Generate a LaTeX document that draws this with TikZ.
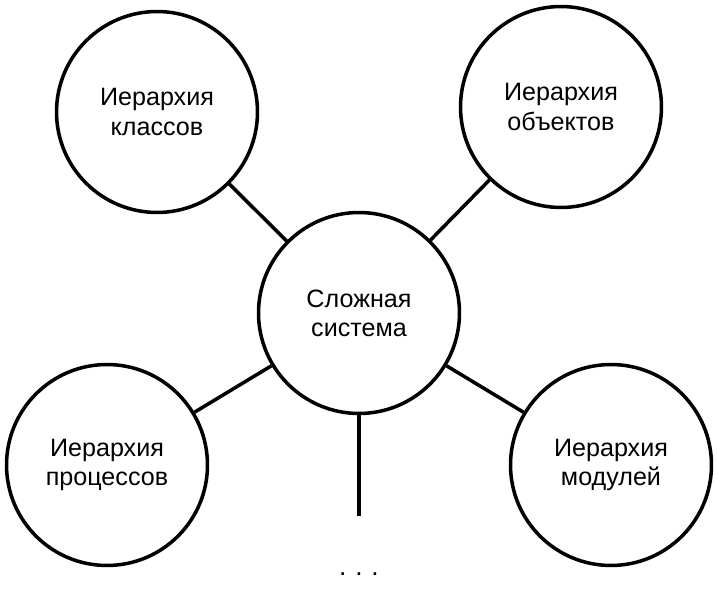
\documentclass[tikz,border=0pt]{standalone}
\usepackage{fontspec}
\setmainfont{Liberation Sans}
\usepackage{tikz}

\begin{document}
\begin{tikzpicture}[x=0.02cm,y=-0.02cm,
  hier/.style={circle,draw=black,line width=2pt,fill=white,minimum size=4.02cm,
    inner sep=0pt,align=center,font=\fontsize{14.3}{16.6}\selectfont},
  link/.style={line width=2pt}]
\useasboundingbox (0,0) rectangle (718,611);
%circles
\node[hier] (sys) at (359,313) {Сложная\\система};
\node[hier] (cls) at (157,112) {Иерархия\\классов};
\node[hier] (obj) at (561,107) {Иерархия\\объектов};
\node[hier] (prc) at (107,465) {Иерархия\\процессов};
\node[hier] (mod) at (611,465) {Иерархия\\модулей};
% links
\draw[link] (cls) -- (sys);
\draw[link] (obj) -- (sys);
\draw[link] (prc) -- (sys);
\draw[link] (mod) -- (sys);
\coordinate (more) at (359,516);
\draw[link] (sys.south) -- (more);
\node[font=\fontsize{15}{18}\selectfont] (dots) at (359,574) {.\,\,.\,\,.};
\end{tikzpicture}
\end{document}
